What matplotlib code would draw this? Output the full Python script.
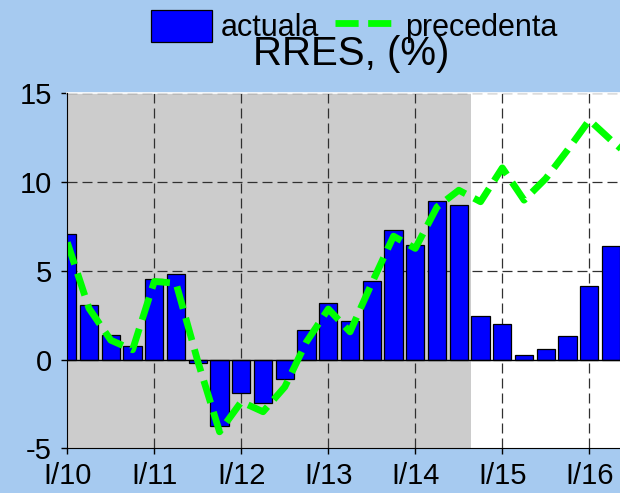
import matplotlib
matplotlib.use("Agg")
import matplotlib.pyplot as plt

plt.rcParams['font.family'] = ['Liberation Sans', 'DejaVu Sans']

# Quarterly data starting I/2010
actuala = [7.05, 3.10, 1.36, 0.75, 4.55, 4.81, -0.22, -3.73, -1.91, -2.44, -1.07, 1.66,
           3.19, 2.16, 4.42, 7.31, 6.44, 8.96, 8.70, 2.48, 1.98, 0.23, 0.59, 1.30,
           4.12, 6.37]
precedenta = [6.6, 2.88, 1.09, 0.55, 4.4, 4.3, -0.1, -4.07, -2.38, -2.94, -1.54, 1.0,
              2.85, 1.56, 4.3, 6.95, 6.26, 8.6, 9.54, 8.89, 10.8, 8.98, 10.2, 11.8,
              13.49, 12.36, 11.3]
year_labels = ['I/10', 'I/11', 'I/12', 'I/13', 'I/14', 'I/15', 'I/16']
shaded_until = 18.55

BG = '#A6CAF0'
fig = plt.figure(figsize=(6.2, 4.93), dpi=100, facecolor=BG)
ax = fig.add_axes([67.3/620, (493-448.3)/493, (620-67.3)/620, 355/493])
ax.set_facecolor('white')

ax.axvspan(-1, shaded_until, color='#CCCCCC', zorder=0, lw=0)

xb = list(range(len(actuala)))
bars = ax.bar(xb, actuala, width=0.84, color='#0000FF', edgecolor='black',
              linewidth=0.9, zorder=3, label='actuala')
xl = list(range(len(precedenta)))
line, = ax.plot(xl, precedenta, color='#00FF00', lw=4.9, dashes=(3.4, 1.4),
                dash_capstyle='butt', solid_joinstyle='miter', zorder=4,
                label='precedenta')

ax.axhline(0, color='black', lw=1.0, zorder=3.5)

ax.set_xlim(0, 552.7/21.75)
ax.set_ylim(-5, 15)
ax.set_yticks([-5, 0, 5, 10, 15])
ax.set_yticklabels(['-5', '0', '5', '10', '15'])
ticks = [4*i for i in range(len(year_labels))]
ax.set_xticks(ticks)
ax.set_xticklabels(year_labels)

for t in ticks[1:]:
    ax.axvline(t, color='#303030', lw=0.9, linestyle=(0, (8, 4)), zorder=2)
for y in [5, 10, 15]:
    ax.axhline(y, color='#303030', lw=0.9, linestyle=(0, (8, 4)), zorder=2)

ax.spines['right'].set_visible(False)
ax.spines['top'].set_color('white')
ax.spines['top'].set_linewidth(1.2)
ax.spines['left'].set_color('black')
ax.spines['bottom'].set_color('black')
ax.spines['left'].set_zorder(5)
ax.spines['bottom'].set_zorder(5)

ax.tick_params(axis='both', direction='out', length=4, width=1, color='black',
               labelsize=21, labelcolor='black')
ax.tick_params(axis='y', pad=7)
ax.tick_params(axis='x', pad=6)

fig.text(351/620, 1 - 65/493, 'RRES, (%)', ha='center', va='baseline',
         fontsize=29, color='black')

leg = fig.legend(handles=[bars, line], labels=['actuala', 'precedenta'],
                 ncol=2, frameon=False, fontsize=22, handlelength=2.0,
                 handleheight=1.25, handletextpad=0.3, columnspacing=0.5,
                 borderpad=0, loc='center',
                 bbox_to_anchor=(354/620, 1 - 26.5/493),
                 bbox_transform=fig.transFigure)

fig.savefig('out.png', dpi=100, facecolor=BG)
